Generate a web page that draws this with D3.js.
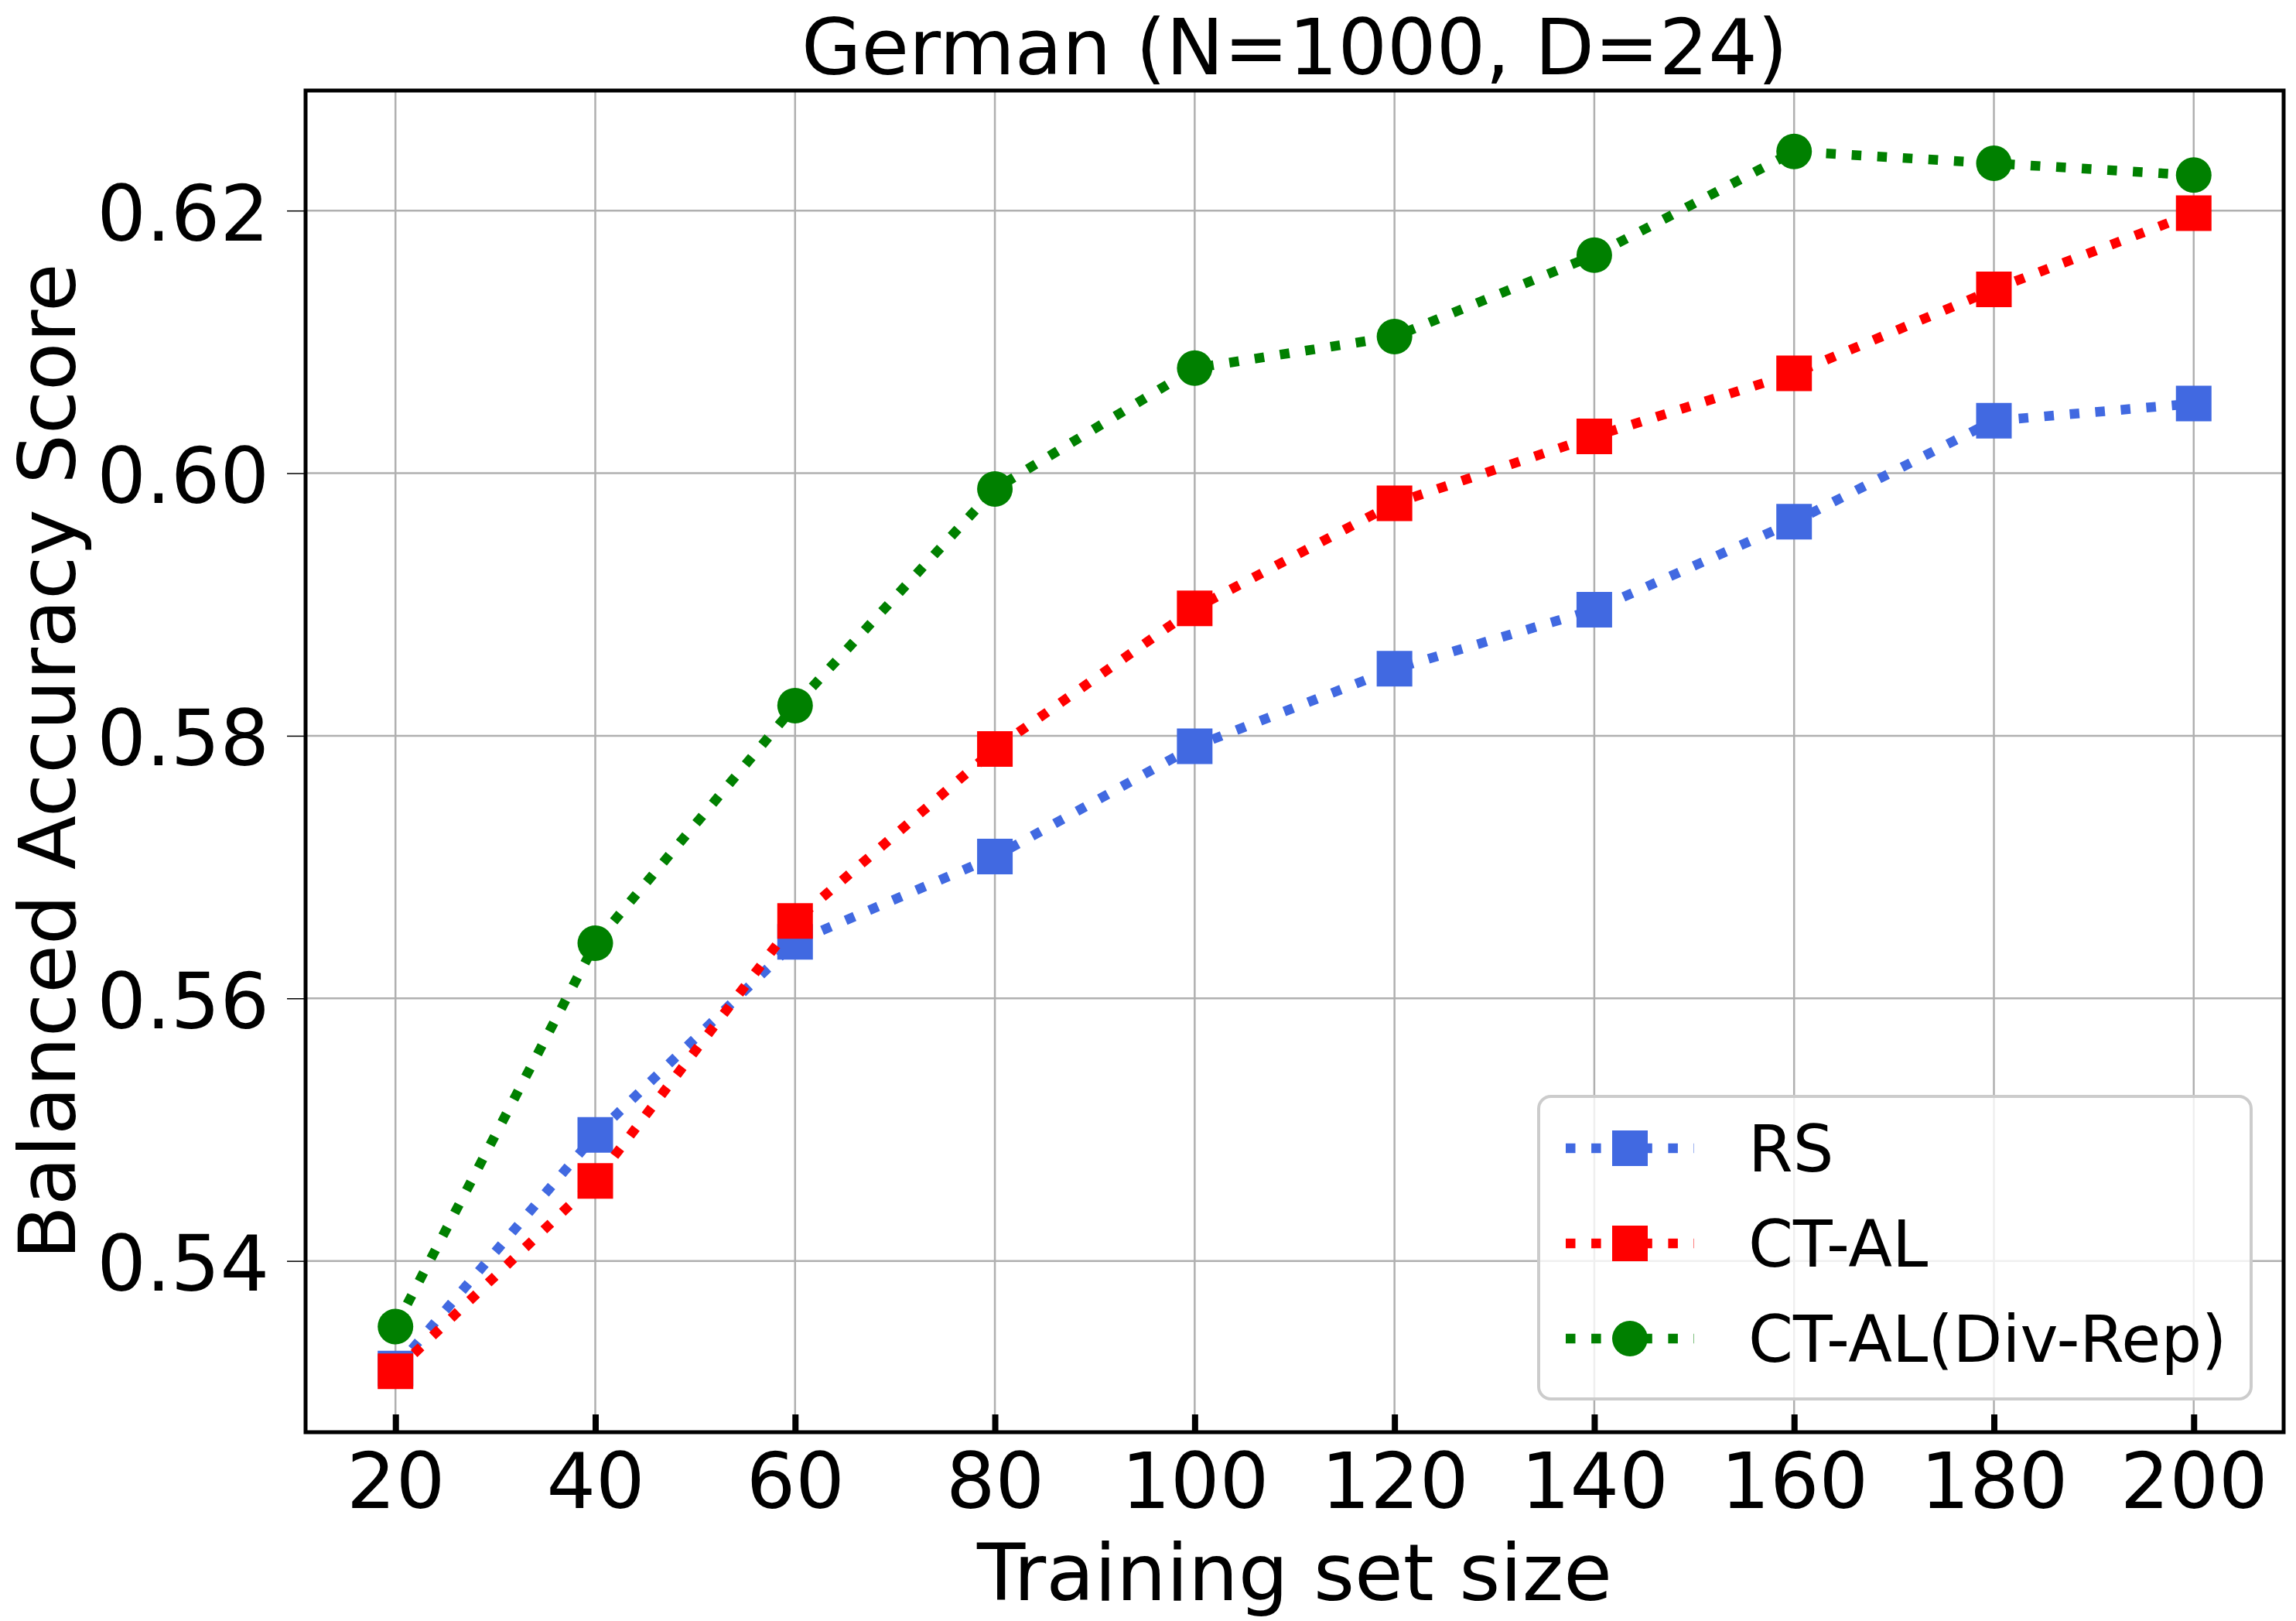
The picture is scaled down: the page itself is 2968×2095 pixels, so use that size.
<!DOCTYPE html>
<html>
<head>
<meta charset="utf-8">
<script src="https://cdn.jsdelivr.net/npm/d3@7"></script>
<style>
  html, body { margin: 0; padding: 0; background: #ffffff; }
  svg { display: block; }
  text { font-family: "DejaVu Sans", sans-serif; fill: #000; }
</style>
</head>
<body>
<svg id="chart" width="2968" height="2095"></svg>
<script>
// ---------------- data ----------------
const trainingSizes = [20, 40, 60, 80, 100, 120, 140, 160, 180, 200];
const rsScores      = [0.5318, 0.5496, 0.5643, 0.5708, 0.5792, 0.5851, 0.5896, 0.5963, 0.6040, 0.6053];
const ctalScores    = [0.5316, 0.5461, 0.5659, 0.5790, 0.5897, 0.5977, 0.6028, 0.6076, 0.6140, 0.6198];
const divRepScores  = [0.5350, 0.5642, 0.5823, 0.5988, 0.6080, 0.6104, 0.6166, 0.6245, 0.6236, 0.6227];
const seriesNames   = ["RS", "CT-AL", "CT-AL(Div-Rep)"];
const xTickValues   = [20, 40, 60, 80, 100, 120, 140, 160, 180, 200];
const yTickValues   = [0.54, 0.56, 0.58, 0.60, 0.62];
const titleText     = "German (N=1000, D=24)";
const xLabelText    = "Training set size";
const yLabelText    = "Balanced Accuracy Score";

// ---------------- layout / style ----------------
const W = 2968, H = 2095;
const plot = { left: 395, top: 117, right: 2952, bottom: 1851 };
const seriesStyle = [
  { color: "#4169E1", symbol: d3.symbolSquare },
  { color: "#FF0000", symbol: d3.symbolSquare },
  { color: "#008000", symbol: d3.symbolCircle }
];
const markerSide = 46;
const lineWidth = 12.5;
const dash = "12.5 20.6";

const series = [rsScores, ctalScores, divRepScores].map((vals, i) => ({
  name: seriesNames[i],
  color: seriesStyle[i].color,
  symbol: seriesStyle[i].symbol,
  points: trainingSizes.map((s, j) => ({ x: s, y: vals[j] }))
}));

// matplotlib-like 5% margins
const xExt = d3.extent(trainingSizes);
const xPad = (xExt[1] - xExt[0]) * 0.05;
const allY = [].concat(rsScores, ctalScores, divRepScores);
const yExt = d3.extent(allY);
const yPad = (yExt[1] - yExt[0]) * 0.05;

const x = d3.scaleLinear().domain([xExt[0] - xPad, xExt[1] + xPad]).range([plot.left, plot.right]);
const y = d3.scaleLinear().domain([yExt[0] - yPad, yExt[1] + yPad]).range([plot.bottom, plot.top]);

const svg = d3.select("#chart");
svg.append("rect").attr("width", W).attr("height", H).attr("fill", "#fff");

// clip
svg.append("defs").append("clipPath").attr("id", "plotclip")
  .append("rect").attr("x", plot.left).attr("y", plot.top)
  .attr("width", plot.right - plot.left).attr("height", plot.bottom - plot.top);

// grid
const grid = svg.append("g").attr("stroke", "#b0b0b0").attr("stroke-width", 2.5);
grid.selectAll("line.gx").data(xTickValues).join("line").attr("class", "gx")
  .attr("x1", d => x(d)).attr("x2", d => x(d))
  .attr("y1", plot.top).attr("y2", plot.bottom);
grid.selectAll("line.gy").data(yTickValues).join("line").attr("class", "gy")
  .attr("y1", d => y(d)).attr("y2", d => y(d))
  .attr("x1", plot.left).attr("x2", plot.right);

// series
const lineGen = d3.line().x(d => x(d.x)).y(d => y(d.y));
const dataLayer = svg.append("g").attr("clip-path", "url(#plotclip)");
series.forEach(s => {
  const g = dataLayer.append("g");
  g.append("path").datum(s.points)
    .attr("d", lineGen)
    .attr("fill", "none")
    .attr("stroke", s.color)
    .attr("stroke-width", lineWidth)
    .attr("stroke-dasharray", dash)
    .attr("stroke-linecap", "butt");
  const sym = d3.symbol().type(s.symbol)
    .size(s.symbol === d3.symbolCircle ? Math.PI * (markerSide / 2) ** 2 : markerSide * markerSide);
  g.selectAll("path.mk").data(s.points).join("path").attr("class", "mk")
    .attr("d", sym)
    .attr("transform", d => `translate(${x(d.x)},${y(d.y)})`)
    .attr("fill", s.color);
});

// axes
const xAxis = d3.axisBottom(x).tickValues(xTickValues).tickSizeInner(-23).tickSizeOuter(0).tickPadding(27);
const gx = svg.append("g").attr("transform", `translate(0,${plot.bottom})`).call(xAxis);
gx.select(".domain").remove();
gx.selectAll(".tick line").attr("stroke", "#000").attr("stroke-width", 8);
gx.selectAll(".tick text").attr("font-size", 100).attr("font-family", "DejaVu Sans").attr("fill", "#000");

const yAxis = d3.axisLeft(y).tickValues(yTickValues).tickFormat(d3.format(".2f"))
  .tickSizeInner(24).tickSizeOuter(0).tickPadding(23);
const gy = svg.append("g").attr("transform", `translate(${plot.left},0)`).call(yAxis);
gy.select(".domain").remove();
gy.selectAll(".tick line").attr("stroke", "#000").attr("stroke-width", 1.5);
gy.selectAll(".tick text").attr("font-size", 100).attr("font-family", "DejaVu Sans")
  .attr("fill", "#000").attr("dy", "0.38em");

// spines
svg.append("rect")
  .attr("x", plot.left).attr("y", plot.top)
  .attr("width", plot.right - plot.left).attr("height", plot.bottom - plot.top)
  .attr("fill", "none").attr("stroke", "#000").attr("stroke-width", 5);

// title & labels
const cx = (plot.left + plot.right) / 2;
const cy = (plot.top + plot.bottom) / 2;
svg.append("text").attr("x", cx).attr("y", 96).attr("text-anchor", "middle")
  .attr("font-size", 100).text(titleText);
svg.append("text").attr("x", cx).attr("y", 2068).attr("text-anchor", "middle")
  .attr("font-size", 102).text(xLabelText);
svg.append("text").attr("transform", `translate(97,${cy}) rotate(-90)`)
  .attr("text-anchor", "middle").attr("font-size", 102).text(yLabelText);

// legend
const leg = { x: 1989, y: 1417, w: 921, h: 391, row0: 1484, rowGap: 123,
              lx1: 2024, lx2: 2190, tx: 2260 };
const lg = svg.append("g");
lg.append("rect").attr("x", leg.x).attr("y", leg.y).attr("width", leg.w).attr("height", leg.h)
  .attr("rx", 16).attr("ry", 16)
  .attr("fill", "#fff").attr("fill-opacity", 0.8)
  .attr("stroke", "#cccccc").attr("stroke-width", 4);
series.forEach((s, i) => {
  const ry = leg.row0 + i * leg.rowGap;
  lg.append("line").attr("x1", leg.lx1).attr("x2", leg.lx2).attr("y1", ry).attr("y2", ry)
    .attr("stroke", s.color).attr("stroke-width", lineWidth)
    .attr("stroke-dasharray", dash).attr("stroke-linecap", "butt");
  const sym = d3.symbol().type(s.symbol)
    .size(s.symbol === d3.symbolCircle ? Math.PI * (markerSide / 2) ** 2 : markerSide * markerSide);
  lg.append("path").attr("d", sym)
    .attr("transform", `translate(${(leg.lx1 + leg.lx2) / 2},${ry})`)
    .attr("fill", s.color);
  lg.append("text").attr("x", leg.tx).attr("y", ry).attr("dy", "0.36em")
    .attr("font-size", 83).text(s.name);
});
</script>
</body>
</html>
